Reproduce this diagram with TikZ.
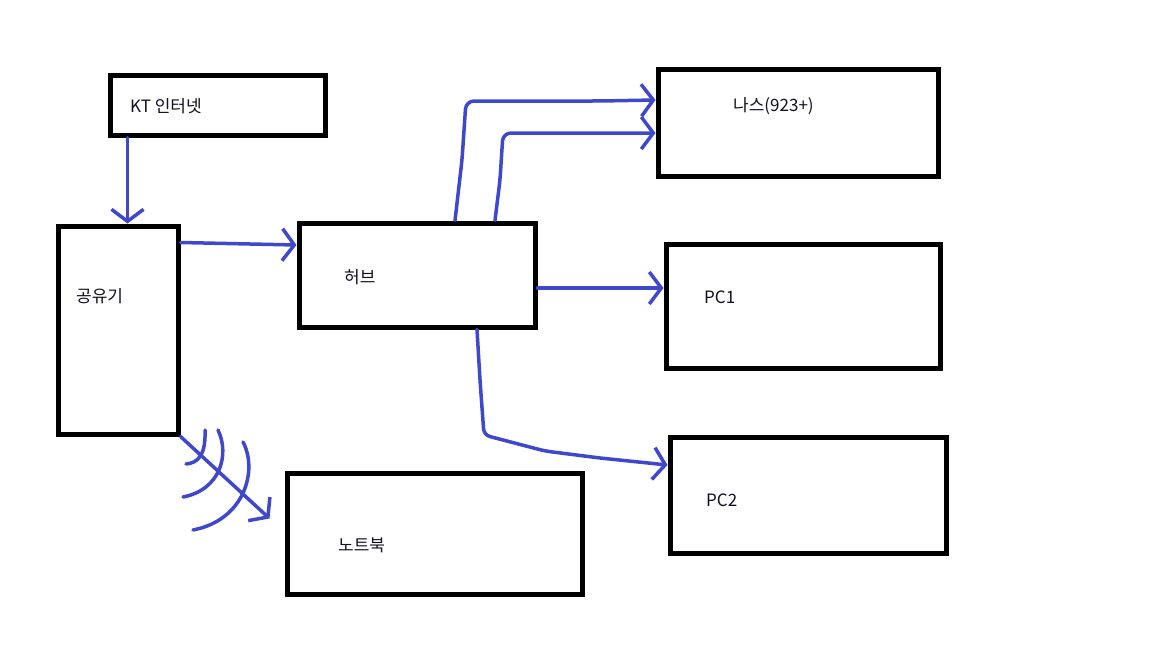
\documentclass[tikz,border=0pt]{standalone}
\usepackage{fontspec}
\setmainfont{Noto Sans CJK KR}
\usetikzlibrary{arrows.meta}
\definecolor{box-border}{HTML}{000000}
\definecolor{link-color}{HTML}{3F48CC}
\definecolor{label-color}{HTML}{101020}
\tikzset{
  box-node/.style={
    draw=box-border, line width=5pt, rectangle, inner sep=0pt
  },
  label-node/.style={
    anchor=west, inner sep=0pt, text=label-color,
    font=\fontsize{17pt}{20pt}\selectfont
  },
  link/.style={
    draw=link-color, line width=3.5pt, line cap=round, line join=round,
    -{Straight Barb[length=12pt, width=32pt, line width=3.5pt]}
  },
  wave/.style={draw=link-color, line width=3.5pt, line cap=round}
}

\begin{document}
\begin{tikzpicture}[x=1pt, y=-1pt]
  \useasboundingbox (0,0) rectangle (1152,648);

  \node[box-node, minimum width=215pt, minimum height=60pt]  (kt)     at (218, 105)   {};
  \node[box-node, minimum width=120pt, minimum height=208pt] (router) at (118, 330)   {};
  \node[box-node, minimum width=236pt, minimum height=104pt] (hub)    at (417, 275)   {};
  \node[box-node, minimum width=280pt, minimum height=107pt] (nas)    at (798, 123)   {};
  \node[box-node, minimum width=274pt, minimum height=124pt] (pc1)    at (803, 306)   {};
  \node[box-node, minimum width=276pt, minimum height=116pt] (pc2)    at (808, 495)   {};
  \node[box-node, minimum width=295pt, minimum height=121pt] (laptop) at (434.5, 533.5) {};

  \node[label-node] (kt-text)     at (130, 106) {KT 인터넷};
  \node[label-node] (router-text) at (76, 296)  {공유기};
  \node[label-node] (hub-text)    at (344, 277) {허브};
  \node[label-node] (nas-text)    at (733, 106) {나스(923+)};
  \node[label-node] (pc1-text)    at (704, 297) {PC1};
  \node[label-node] (pc2-text)    at (706, 500) {PC2};
  \node[label-node] (laptop-text) at (338, 545) {노트북};

  \draw[link] ([xshift=19.5pt]kt.south west) -- ([xshift=72pt]router.north west);
  \draw[link] ([yshift=-19pt]router.north east) -- (hub.west |- 0,245);
  \draw[link, rounded corners=8pt] ([xshift=158.5pt]hub.north west)
    -- (462, 160) -- (466, 101) -- (600, 101) -- (nas.west |- 0,100);
  \draw[link, rounded corners=8pt] ([xshift=198.5pt]hub.north west)
    -- (500, 180) -- (503, 133) -- (nas.west |- 0,133);
  \draw[link] ([yshift=-13pt]hub.east) -- (pc1.west |- 0,288);
  \draw[link, rounded corners=6pt] ([xshift=180.5pt]hub.south west)
    -- (480, 380) -- (484, 435) -- (545, 451) -- (600, 458) -- (pc2.west |- 0,465);
  \draw[link] (router.south east) -- ([xshift=-15pt, yshift=-48pt]laptop.north west);

  % wireless waves
  \draw[wave] (205, 430) .. controls (206, 455) and (198, 463) .. (186, 464);
  \draw[wave] (218, 430) .. controls (230, 455) and (220, 490) .. (183, 497);
  \draw[wave] (243, 442) .. controls (258, 470) and (245, 520) .. (193, 530);
\end{tikzpicture}
\end{document}
